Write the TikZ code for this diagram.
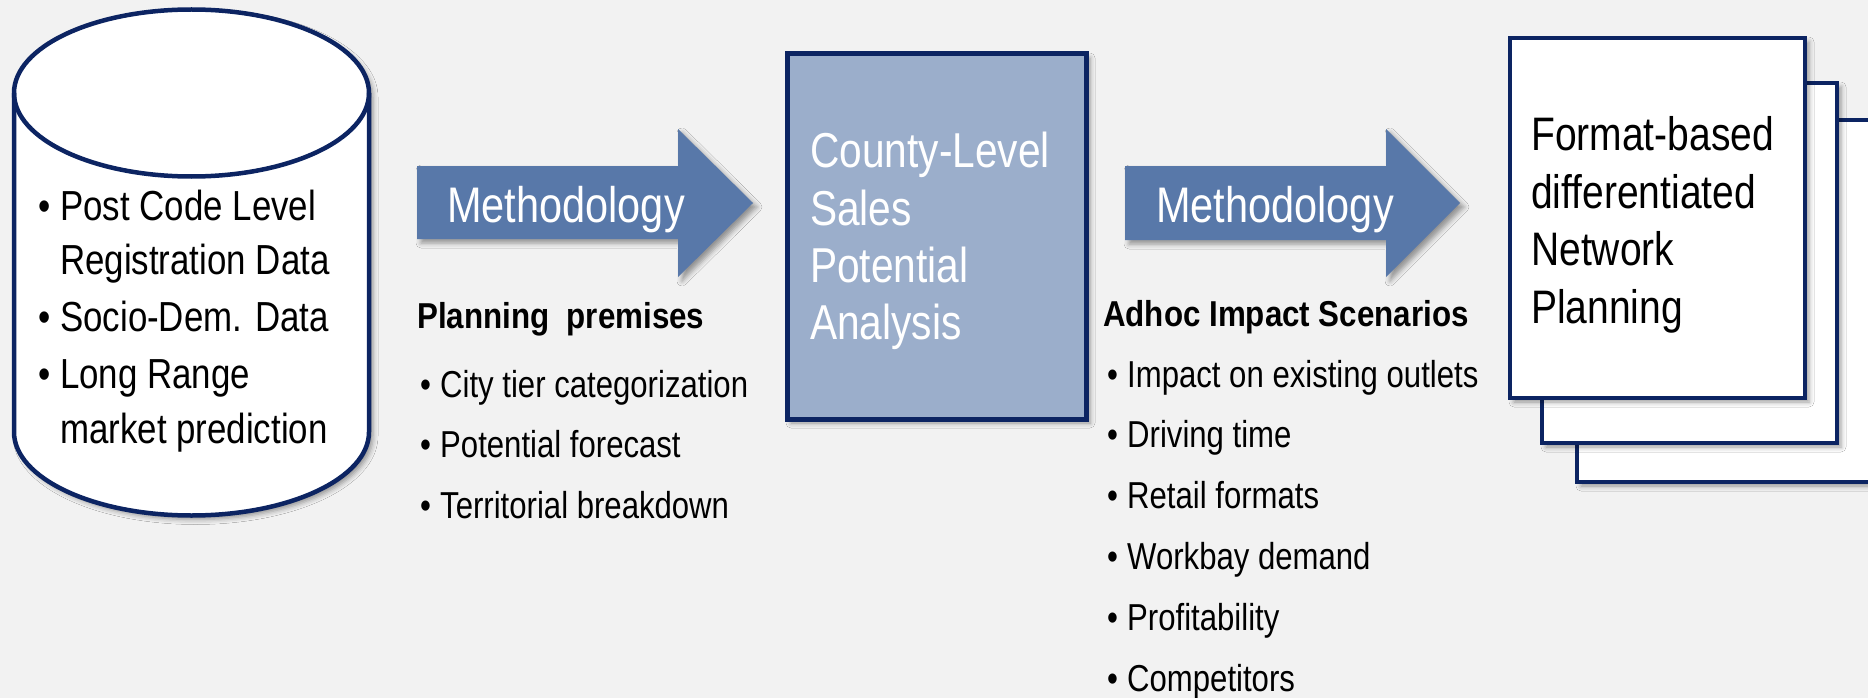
\documentclass[tikz,border=0pt]{standalone}
\usepackage{fontspec}
\setmainfont{Liberation Sans}[FakeStretch=0.83]
\newfontfamily\hdfont{Liberation Sans}[FakeStretch=0.87]
\usetikzlibrary{shadows.blur}
\definecolor{navy}{HTML}{0C2462}
\definecolor{arrowblue}{HTML}{5878A9}
\definecolor{boxblue}{HTML}{9BAECB}
\definecolor{bggray}{HTML}{F2F2F2}
\begin{document}
\begin{tikzpicture}[x=1pt,y=1pt,
  softshadow/.style={blur shadow={shadow xshift=4pt,shadow yshift=-4pt,shadow blur radius=5pt,shadow opacity=40}},
  outline/.style={draw=navy,line width=4.5pt},
  bigarrow/.style={fill=arrowblue,softshadow},
  txt/.style={inner sep=0pt,anchor=base west},
  cyltxt/.style={txt,font=\fontsize{42}{50}\selectfont},
  arrtxt/.style={txt,text=white,font=\fontsize{50}{60}\selectfont},
  boxtxt/.style={txt,text=white,font=\fontsize{49}{58}\selectfont},
  pagetxt/.style={txt,font=\fontsize{47}{56}\selectfont},
  headtxt/.style={txt,font=\hdfont\bfseries\fontsize{36}{44}\selectfont},
  itemtxt/.style={txt,font=\fontsize{37.5}{45}\selectfont},
  dot/.style={txt,font=\fontsize{37.5}{45}\selectfont}
]
\useasboundingbox (0,0) rectangle (1868,-698);
\fill[bggray] (0,0) rectangle (1868,-698);

% ---------- cylinder ----------
\path[fill=white,softshadow] (14,-93) -- (14,-432)
  arc[start angle=180,end angle=360,x radius=177.5,y radius=83.5]
  -- (369,-93)
  arc[start angle=0,end angle=180,x radius=177.5,y radius=83.5] -- cycle;
\draw[outline] (14,-93) -- (14,-432)
  arc[start angle=180,end angle=360,x radius=177.5,y radius=83.5]
  -- (369,-93)
  arc[start angle=0,end angle=180,x radius=177.5,y radius=83.5] -- cycle;
\draw[outline] (14,-93) arc[start angle=180,end angle=360,x radius=177.5,y radius=83.5];

\node[cyltxt] (c1b) at (38,-220) {\textbullet};
\node[cyltxt] (c1) at (60,-220) {Post Code Level};
\node[cyltxt] (c2) at (60,-274) {Registration Data};
\node[cyltxt] (c3b) at (38,-331) {\textbullet};
\node[cyltxt] (c3) at (60,-331) {Socio-Dem. Data};
\node[cyltxt] (c4b) at (38,-388) {\textbullet};
\node[cyltxt] (c4) at (60,-388) {Long Range};
\node[cyltxt] (c5) at (60,-443) {market prediction};

% ---------- arrow 1 ----------
\path[bigarrow] (417,-166) -- (678,-166) -- (678,-129) -- (753,-203)
  -- (678,-277) -- (678,-239) -- (417,-239) -- cycle;
\node[arrtxt] (m1) at (447,-222) {Methodology};

\node[headtxt] (pp) at (417,-328) {Planning\ \ premises};
\node[dot] (p1b) at (420,-397) {\textbullet};
\node[itemtxt] (p1) at (440,-397) {City tier categorization};
\node[dot] (p2b) at (420,-457) {\textbullet};
\node[itemtxt] (p2) at (440,-457) {Potential forecast};
\node[dot] (p3b) at (420,-518) {\textbullet};
\node[itemtxt] (p3) at (440,-518) {Territorial breakdown};

% ---------- center box ----------
\path[fill=boxblue,softshadow] (787,-54) rectangle (1086,-419);
\draw[outline,line width=5pt] (787,-54) rectangle (1086,-419);
\node[boxtxt] (b1) at (810,-167) {County-Level};
\node[boxtxt] (b2) at (810,-225) {Sales};
\node[boxtxt] (b3) at (810,-282) {Potential};
\node[boxtxt] (b4) at (810,-339) {Analysis};

% ---------- arrow 2 ----------
\path[bigarrow] (1125,-166) -- (1386,-166) -- (1386,-129) -- (1460,-203)
  -- (1386,-277) -- (1386,-240) -- (1125,-240) -- cycle;
\node[arrtxt] (m2) at (1156,-222) {Methodology};

\node[headtxt] (ai) at (1103,-326) {Adhoc Impact Scenarios};
\node[dot] (a1b) at (1107,-387) {\textbullet};
\node[itemtxt] (a1) at (1127,-387) {Impact on existing outlets};
\node[dot] (a2b) at (1107,-447) {\textbullet};
\node[itemtxt] (a2) at (1127,-447) {Driving time};
\node[dot] (a3b) at (1107,-508) {\textbullet};
\node[itemtxt] (a3) at (1127,-508) {Retail formats};
\node[dot] (a4b) at (1107,-569) {\textbullet};
\node[itemtxt] (a4) at (1127,-569) {Workbay demand};
\node[dot] (a5b) at (1107,-630) {\textbullet};
\node[itemtxt] (a5) at (1127,-630) {Profitability};
\node[dot] (a6b) at (1107,-691) {\textbullet};
\node[itemtxt] (a6) at (1127,-691) {Competitors};

% ---------- stacked pages ----------
\path[fill=white,softshadow] (1577,-120) rectangle (1880,-482);
\draw[outline] (1577,-120) rectangle (1880,-482);
\path[fill=white,softshadow] (1542,-83) rectangle (1837,-443);
\draw[outline] (1542,-83) rectangle (1837,-443);
\path[fill=white,softshadow] (1510,-38) rectangle (1805,-398);
\draw[outline] (1510,-38) rectangle (1805,-398);
\node[pagetxt] (f1) at (1531,-150) {Format-based};
\node[pagetxt] (f2) at (1531,-208) {differentiated};
\node[pagetxt] (f3) at (1531,-265) {Network};
\node[pagetxt] (f4) at (1531,-323) {Planning};
\end{tikzpicture}
\end{document}
